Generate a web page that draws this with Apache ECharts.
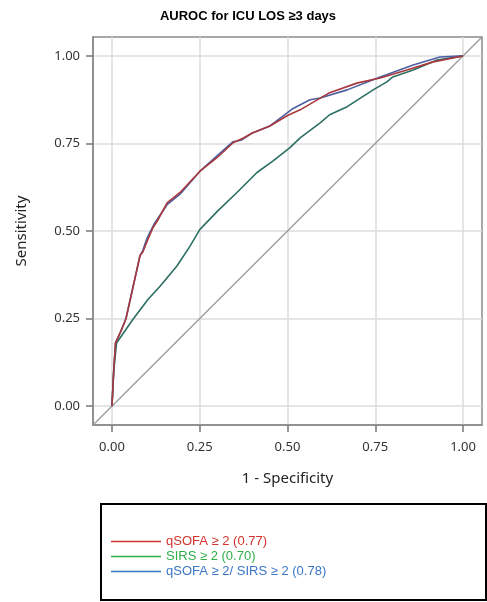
<!DOCTYPE html>
<html>
<head>
<meta charset="utf-8">
<script src="https://cdn.jsdelivr.net/npm/echarts@6/dist/echarts.min.js"></script>
<style>
  html, body { margin: 0; padding: 0; background: #fff; }
  #chart { width: 487px; height: 602px; }
</style>
</head>
<body>
<div id="chart"></div>
<script>
// ROC curve points (1 - specificity, sensitivity)
var qsofaX = [0, 0.005, 0.01, 0.028, 0.04, 0.06, 0.08, 0.088, 0.10, 0.117, 0.13, 0.157, 0.194, 0.25, 0.30, 0.345, 0.373, 0.40, 0.45, 0.50, 0.536, 0.62, 0.70, 0.764, 0.84, 0.915, 1];
var qsofaY = [0, 0.10, 0.18, 0.22, 0.25, 0.34, 0.43, 0.44, 0.47, 0.51, 0.53, 0.58, 0.61, 0.67, 0.71, 0.752, 0.765, 0.78, 0.80, 0.83, 0.846, 0.895, 0.923, 0.937, 0.96, 0.983, 1];

var sirsX = [0, 0.005, 0.013, 0.06, 0.103, 0.137, 0.185, 0.222, 0.25, 0.30, 0.356, 0.413, 0.459, 0.507, 0.536, 0.593, 0.62, 0.67, 0.744, 0.783, 0.80, 0.858, 0.926, 1];
var sirsY = [0, 0.10, 0.18, 0.248, 0.305, 0.342, 0.40, 0.456, 0.504, 0.556, 0.61, 0.667, 0.70, 0.738, 0.766, 0.809, 0.832, 0.855, 0.903, 0.926, 0.94, 0.96, 0.988, 1];

var bothX = [0, 0.005, 0.01, 0.028, 0.04, 0.08, 0.088, 0.10, 0.12, 0.157, 0.194, 0.25, 0.30, 0.345, 0.37, 0.40, 0.45, 0.516, 0.564, 0.593, 0.67, 0.764, 0.858, 0.934, 1];
var bothY = [0, 0.10, 0.18, 0.22, 0.25, 0.43, 0.445, 0.48, 0.52, 0.575, 0.605, 0.67, 0.715, 0.755, 0.76, 0.78, 0.80, 0.85, 0.875, 0.88, 0.903, 0.94, 0.974, 0.997, 1];

var refLine = [-0.054, 1.054];
var tickValues = [0, 0.25, 0.5, 0.75, 1];

var names = ['qSOFA ≥ 2 (0.77)', 'SIRS ≥ 2 (0.70)', 'qSOFA ≥ 2/ SIRS ≥ 2 (0.78)'];
var lineColors = ['#a8383b', '#2b6e63', '#4d5fa3'];
var legendColors = ['#d2332c', '#2fae48', '#3a76c6'];

function pairs(xs, ys) {
  return xs.map(function (x, i) { return [x, ys[i]]; });
}

// fresh objects for each axis so nothing is shared between x and y
function makeAxis(name, nameGap, labelMargin) {
  return {
    type: 'value',
    min: refLine[0],
    max: refLine[1],
    name: name,
    nameGap: nameGap,
    nameLocation: 'middle',
    nameTextStyle: { fontFamily: 'Noto Sans', fontSize: 15, color: '#222' },
    axisLine: { show: true, onZero: false, lineStyle: { color: '#8a8a8a', width: 1.5 } },
    axisTick: { show: true, inside: false, length: 7, customValues: tickValues.slice(), lineStyle: { color: '#777', width: 1.5 } },
    axisLabel: {
      customValues: tickValues.slice(),
      margin: labelMargin,
      formatter: function (v) { return v.toFixed(2); },
      fontFamily: 'Noto Sans', fontSize: 13, color: '#333'
    },
    splitLine: { show: true, lineStyle: { color: '#dcdcdc', width: 1.5 } }
  };
}

var myChart = echarts.init(document.getElementById('chart'));

var option = {
  animation: false,
  title: {
    text: 'AUROC for ICU LOS ≥3 days',
    left: 243, top: 5, textAlign: 'center',
    textStyle: { fontFamily: 'Liberation Sans', fontSize: 13, fontWeight: 'bold', color: '#000' }
  },
  grid: {
    left: 93, top: 37, width: 389, height: 388,
    show: true, borderColor: '#8a8a8a', borderWidth: 1.5
  },
  xAxis: makeAxis('1 - Specificity', 46, 16),
  yAxis: makeAxis('Sensitivity', 64, 13),
  legend: {
    orient: 'vertical',
    left: 106, top: 530,
    icon: 'rect', itemWidth: 50, itemHeight: 1.5, itemGap: 2,
    textStyle: { fontFamily: 'Liberation Sans', fontSize: 13 },
    data: names.map(function (n, i) {
      return { name: n, itemStyle: { color: legendColors[i] }, textStyle: { color: legendColors[i] } };
    })
  },
  graphic: [{
    type: 'rect',
    shape: { x: 101, y: 504, width: 385, height: 96 },
    style: { fill: 'none', stroke: '#000', lineWidth: 2 }
  }],
  series: [
    {
      type: 'line', silent: true, symbol: 'none',
      data: [[refLine[0], refLine[0]], [refLine[1], refLine[1]]],
      lineStyle: { color: '#9a9a9a', width: 1.3 }
    },
    {
      name: names[1], type: 'line', symbol: 'none',
      data: pairs(sirsX, sirsY),
      lineStyle: { color: lineColors[1], width: 1.6 }, itemStyle: { color: lineColors[1] }
    },
    {
      name: names[2], type: 'line', symbol: 'none',
      data: pairs(bothX, bothY),
      lineStyle: { color: lineColors[2], width: 1.6 }, itemStyle: { color: lineColors[2] }
    },
    {
      name: names[0], type: 'line', symbol: 'none',
      data: pairs(qsofaX, qsofaY),
      lineStyle: { color: lineColors[0], width: 1.6 }, itemStyle: { color: lineColors[0] }
    }
  ]
};

myChart.setOption(option);
</script>
</body>
</html>
